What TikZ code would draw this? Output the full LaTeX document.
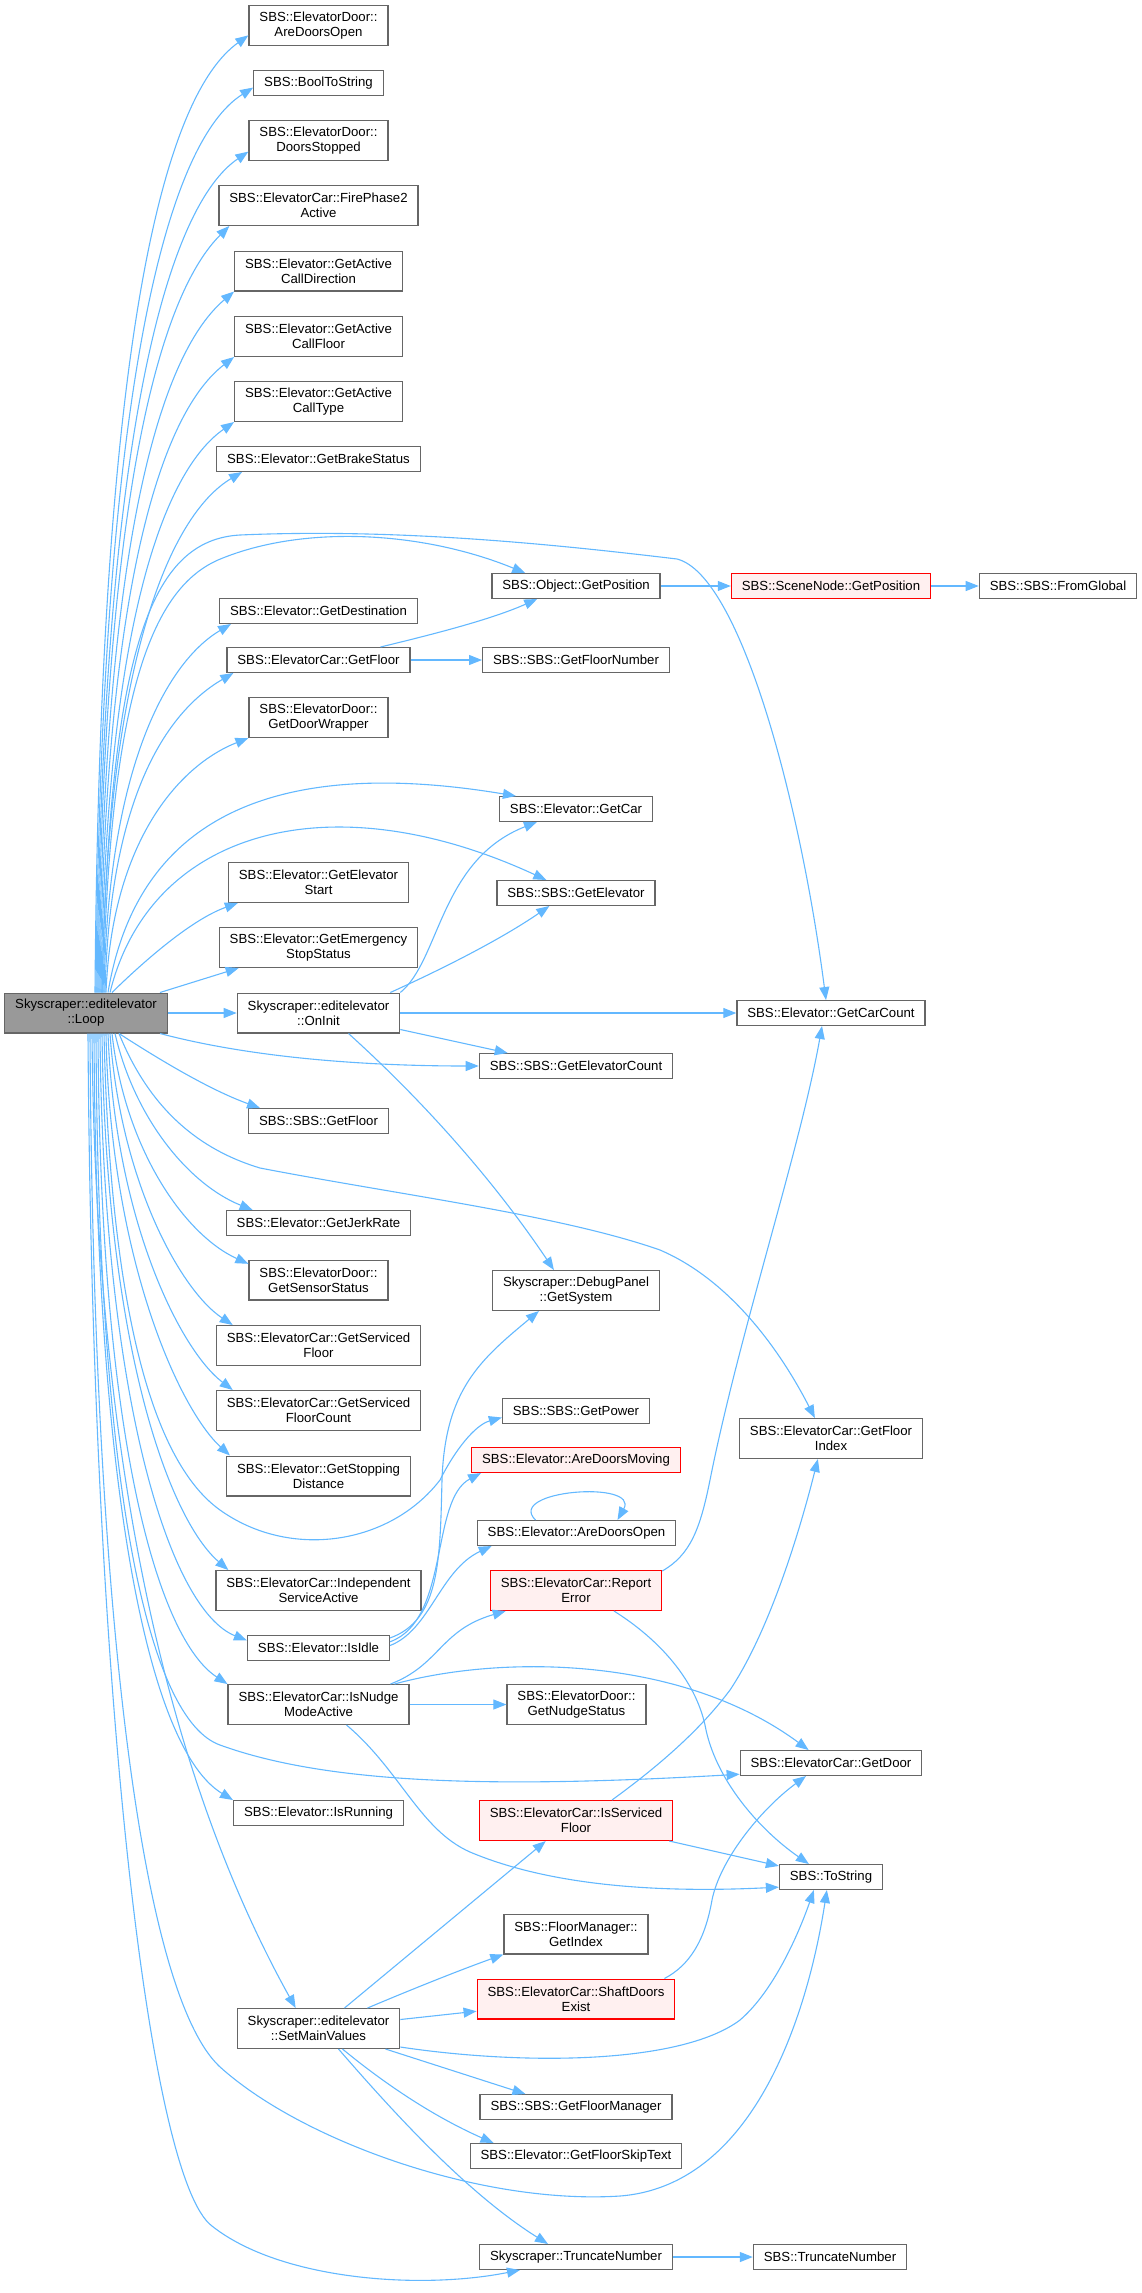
\documentclass[tikz,border=0pt]{standalone}
\usepackage{fontspec}
\setmainfont{Liberation Sans}
\usetikzlibrary{arrows.meta}
\definecolor{boxgray}{HTML}{666666}
\definecolor{rootgray}{HTML}{999999}
\definecolor{hotfill}{HTML}{FFF0F0}
\definecolor{callblue}{HTML}{63B8FF}

\begin{document}
\begin{tikzpicture}[x=1pt, y=-1pt,
	every node/.style={font=\fontsize{13.2}{15}\selectfont},
	fn/.style={draw=boxgray, line width=1.3pt, fill=white, align=center, inner xsep=10.4pt, inner ysep=3pt, minimum height=24.7pt},
	tall/.style={minimum height=39.7pt},
	hot/.style={draw=red, fill=hotfill},
	root/.style={fill=rootgray},
	call/.style={draw=callblue, line width=1.1pt, -{Triangle[length=13pt,width=10pt]}}]
	\useasboundingbox (0,0) rectangle (1142,2293);
	% caller
	\node[fn, tall, root] (loop) at (86,1013) {Skyscraper::editelevator\\::Loop};
	% first column
	\node[fn, tall] (adoA) at (318.5,25.5) {SBS::ElevatorDoor::\\AreDoorsOpen};
	\node[fn] (bool) at (318.5,83) {SBS::BoolToString};
	\node[fn, tall] (stop) at (318.5,140.5) {SBS::ElevatorDoor::\\DoorsStopped};
	\node[fn, tall] (fire) at (318.5,205.5) {SBS::ElevatorCar::FirePhase2\\Active};
	\node[fn, tall] (cdir) at (318.5,271) {SBS::Elevator::GetActive\\CallDirection};
	\node[fn, tall] (cflr) at (318.5,336.5) {SBS::Elevator::GetActive\\CallFloor};
	\node[fn, tall] (ctyp) at (318.5,401.5) {SBS::Elevator::GetActive\\CallType};
	\node[fn] (brake) at (318.5,459) {SBS::Elevator::GetBrakeStatus};
	\node[fn] (dest) at (318.5,611) {SBS::Elevator::GetDestination};
	\node[fn] (cflo) at (318.5,660) {SBS::ElevatorCar::GetFloor};
	\node[fn, tall] (wrap) at (318.5,717.5) {SBS::ElevatorDoor::\\GetDoorWrapper};
	\node[fn, tall] (estart) at (318.5,882.5) {SBS::Elevator::GetElevator\\Start};
	\node[fn, tall] (emerg) at (318.5,947.5) {SBS::Elevator::GetEmergency\\StopStatus};
	\node[fn, tall] (oninit) at (318.5,1013) {Skyscraper::editelevator\\::OnInit};
	\node[fn] (sfloor) at (318.5,1121) {SBS::SBS::GetFloor};
	\node[fn] (jerk) at (318.5,1223) {SBS::Elevator::GetJerkRate};
	\node[fn, tall] (sensor) at (318.5,1280) {SBS::ElevatorDoor::\\GetSensorStatus};
	\node[fn, tall] (svfl) at (318.5,1345.5) {SBS::ElevatorCar::GetServiced\\Floor};
	\node[fn, tall] (svfc) at (318.5,1410.5) {SBS::ElevatorCar::GetServiced\\FloorCount};
	\node[fn, tall] (stopd) at (318.5,1476) {SBS::Elevator::GetStopping\\Distance};
	\node[fn, tall] (indep) at (318.5,1590.5) {SBS::ElevatorCar::Independent\\ServiceActive};
	\node[fn] (idle) at (318.5,1648) {SBS::Elevator::IsIdle};
	\node[fn, tall] (nudge) at (318.5,1704.5) {SBS::ElevatorCar::IsNudge\\ModeActive};
	\node[fn] (running) at (318.5,1813) {SBS::Elevator::IsRunning};
	\node[fn, tall] (setmain) at (318.5,2028.5) {Skyscraper::editelevator\\::SetMainValues};
	% second column
	\node[fn] (opos) at (576,586) {SBS::Object::GetPosition};
	\node[fn] (fnum) at (576,660) {SBS::SBS::GetFloorNumber};
	\node[fn] (car) at (576,809) {SBS::Elevator::GetCar};
	\node[fn] (elev) at (576,893) {SBS::SBS::GetElevator};
	\node[fn] (ecount) at (576,1066) {SBS::SBS::GetElevatorCount};
	\node[fn, tall] (sys) at (576,1290.5) {Skyscraper::DebugPanel\\::GetSystem};
	\node[fn] (power) at (576,1411) {SBS::SBS::GetPower};
	\node[fn, hot] (moving) at (576,1460) {SBS::Elevator::AreDoorsMoving};
	\node[fn] (adoB) at (576.5,1533) {SBS::Elevator::AreDoorsOpen};
	\node[fn, tall, hot] (report) at (576,1590.5) {SBS::ElevatorCar::Report\\Error};
	\node[fn, tall] (nstat) at (576.5,1704.5) {SBS::ElevatorDoor::\\GetNudgeStatus};
	\node[fn, tall, hot] (isserv) at (576,1820.5) {SBS::ElevatorCar::IsServiced\\Floor};
	\node[fn, tall] (fmidx) at (576,1934) {SBS::FloorManager::\\GetIndex};
	\node[fn, tall, hot] (shaft) at (576,1999) {SBS::ElevatorCar::ShaftDoors\\Exist};
	\node[fn] (fman) at (576,2107) {SBS::SBS::GetFloorManager};
	\node[fn] (skip) at (576,2156) {SBS::Elevator::GetFloorSkipText};
	\node[fn] (trunc) at (576,2257) {Skyscraper::TruncateNumber};
	% third and fourth column
	\node[fn, hot] (spos) at (831,586) {SBS::SceneNode::GetPosition};
	\node[fn] (glob) at (1058,586) {SBS::SBS::FromGlobal};
	\node[fn] (ccount) at (831,1013) {SBS::Elevator::GetCarCount};
	\node[fn, tall] (findex) at (831,1438.5) {SBS::ElevatorCar::GetFloor\\Index};
	\node[fn] (door) at (831,1763) {SBS::ElevatorCar::GetDoor};
	\node[fn] (tostr) at (831,1877) {SBS::ToString};
	\node[fn] (strunc) at (830,2257) {SBS::TruncateNumber};

	% Loop, upwards
	\draw[call] ([xshift=9pt]loop.north) .. controls (100,330) and (165,95) .. (adoA.188);
	\draw[call] ([xshift=10pt]loop.north) .. controls (101,370) and (170,140) .. (bool.184);
	\draw[call] ([xshift=11pt]loop.north) .. controls (102,420) and (170,205) .. (stop.189);
	\draw[call] ([xshift=12pt]loop.north) .. controls (103,470) and (165,290) .. ([xshift=11pt]fire.south west);
	\draw[call] ([xshift=13pt]loop.north) .. controls (104,520) and (165,350) .. (cdir.south west);
	\draw[call] ([xshift=14pt]loop.north) .. controls (105,570) and (165,410) .. (cflr.south west);
	\draw[call] ([xshift=15pt]loop.north) .. controls (106,620) and (165,470) .. (ctyp.south west);
	\draw[call] ([xshift=16pt]loop.north) .. controls (107,660) and (170,515) .. ([xshift=26pt]brake.south west);
	\draw[call] ([xshift=17pt]loop.north) .. controls (110,700) and (150,590) .. (218,560)
		.. controls (300,525) and (420,530) .. ([xshift=34pt]opos.north west);
	\draw[call] ([xshift=16pt]loop.north) .. controls (110,650) and (150,540) .. (240,535)
		.. controls (400,528) and (560,545) .. (677,559) .. controls (740,575) and (800,800) .. ([xshift=-5pt]ccount.north);
	\draw[call] ([xshift=18pt]loop.north) .. controls (108,760) and (170,660) .. ([xshift=12pt]dest.south west);
	\draw[call] ([xshift=19pt]loop.north) .. controls (110,790) and (170,710) .. ([xshift=7pt]cflo.south west);
	\draw[call] ([xshift=20pt]loop.north) .. controls (112,840) and (180,765) .. (wrap.south west);
	\draw[call] ([xshift=22pt]loop.north) .. controls (140,800) and (300,760) .. ([xshift=17pt]car.north west);
	\draw[call] ([xshift=24pt]loop.north) .. controls (150,830) and (330,780) .. ([xshift=50pt]elev.north west);
	\draw[call] ([xshift=26pt]loop.north) .. controls (140,965) and (190,920) .. ([xshift=10pt]estart.south west);
	\draw[call] ([xshift=74pt]loop.north) -- ([xshift=20pt]emerg.south west);
	\draw[call] (loop.east) -- (oninit.west);
	% Loop, downwards
	\draw[call] ([xshift=33pt]loop.south) .. controls (160,1060) and (210,1090) .. ([xshift=12pt]sfloor.north west);
	\draw[call] ([xshift=74pt]loop.south) .. controls (260,1060) and (380,1066) .. (ecount.west);
	\draw[call] ([xshift=33pt]loop.south) .. controls (150,1110) and (200,1150) .. (260,1168)
		.. controls (400,1195) and (560,1215) .. (660,1250) .. controls (730,1280) and (780,1350) .. ([xshift=76pt]findex.north west);
	\draw[call] ([xshift=29pt]loop.south) .. controls (135,1120) and (190,1185) .. ([xshift=27pt]jerk.north west);
	\draw[call] ([xshift=26pt]loop.south) .. controls (125,1150) and (185,1235) .. (sensor.167);
	\draw[call] ([xshift=24pt]loop.south) .. controls (120,1180) and (180,1290) .. ([xshift=17pt]svfl.north west);
	\draw[call] ([xshift=22pt]loop.south) .. controls (115,1220) and (180,1350) .. ([xshift=17pt]svfc.north west);
	\draw[call] ([xshift=20pt]loop.south) .. controls (110,1260) and (180,1410) .. ([xshift=4pt]stopd.north west);
	\draw[call] ([xshift=18pt]loop.south) .. controls (110,1300) and (150,1460) .. (220,1510)
		.. controls (290,1560) and (390,1545) .. (440,1480) .. controls (455,1450) and (475,1425) .. (power.185);
	\draw[call] ([xshift=16pt]loop.south) .. controls (106,1350) and (170,1520) .. ([xshift=13pt]indep.north west);
	\draw[call] ([xshift=14pt]loop.south) .. controls (103,1400) and (170,1610) .. (idle.174);
	\draw[call] ([xshift=12pt]loop.south) .. controls (100,1450) and (160,1640) .. (nudge.north west);
	\draw[call] ([xshift=10pt]loop.south) .. controls (98,1500) and (150,1720) .. (220,1745)
		.. controls (330,1785) and (500,1788) .. (door.187);
	\draw[call] ([xshift=8pt]loop.south) .. controls (96,1500) and (150,1750) .. (running.north west);
	\draw[call] ([xshift=6pt]loop.south) .. controls (96,1500) and (180,1800) .. ([xshift=59pt]setmain.north west);
	\draw[call] ([xshift=4pt]loop.south) .. controls (93,1600) and (140,1990) .. (219,2066)
		.. controls (300,2140) and (480,2205) .. (620,2196) .. controls (760,2185) and (810,2000) .. ([xshift=48pt]tostr.south west);
	\draw[call] ([xshift=2pt]loop.south) .. controls (92,1700) and (150,2180) .. (212,2226)
		.. controls (280,2280) and (420,2290) .. ([xshift=41pt]trunc.south west);
	% OnInit
	\draw[call] (oninit.north east) .. controls (440,960) and (440,860) .. ([xshift=38pt]car.south west);
	\draw[call] ([xshift=-10pt]oninit.north east) .. controls (440,970) and (500,940) .. ([xshift=53pt]elev.south west);
	\draw[call] (oninit.east) -- (ccount.west);
	\draw[call] ([yshift=4pt]oninit.south east) -- ([xshift=29pt]ecount.north west);
	\draw[call] ([xshift=30pt]oninit.south) .. controls (400,1080) and (480,1160) .. ([xshift=62pt]sys.north west);
	% GetFloor and GetPosition
	\draw[call] ([xshift=62pt]cflo.north) .. controls (430,635) and (490,620) .. ([xshift=46pt]opos.south west);
	\draw[call] (cflo.east) -- (fnum.west);
	\draw[call] (opos.east) -- (spos.west);
	\draw[call] (spos.east) -- (glob.west);
	% IsIdle
	\draw[call] (idle.8) .. controls (440,1620) and (440,1560) .. (442,1480)
		.. controls (445,1390) and (480,1360) .. ([xshift=47pt]sys.south west);
	\draw[call] (idle.5) .. controls (450,1620) and (430,1500) .. ([xshift=10pt]moving.south west);
	\draw[call] (idle.2) .. controls (430,1630) and (440,1570) .. ([xshift=15pt]adoB.south west);
	\draw[call] ([xshift=-41pt]adoB.north) .. controls (505,1490) and (640,1480) .. ([xshift=41pt]adoB.north);
	% IsNudgeModeActive
	\draw[call] ([xshift=72pt]nudge.north) .. controls (440,1665) and (440,1630) .. ([xshift=16pt]report.south west);
	\draw[call] ([xshift=76pt]nudge.north) .. controls (500,1655) and (680,1655) .. ([xshift=69pt]door.north west);
	\draw[call] (nudge.east) -- (nstat.west);
	\draw[call] ([xshift=28pt]nudge.south) .. controls (400,1770) and (420,1830) .. (470,1852)
		.. controls (560,1890) and (680,1892) .. (tostr.191);
	% ReportError
	\draw[call] ([yshift=-1pt]report.north east) .. controls (690,1555) and (700,1530) .. (710,1480)
		.. controls (740,1330) and (800,1150) .. ([xshift=-9pt]ccount.south);
	\draw[call] ([xshift=38pt]report.south) .. controls (660,1640) and (695,1680) .. (705,1725)
		.. controls (715,1780) and (760,1830) .. ([xshift=30pt]tostr.north west);
	% IsServicedFloor and ShaftDoorsExist
	\draw[call] ([xshift=36pt]isserv.north) .. controls (660,1765) and (700,1730) .. (730,1690)
		.. controls (770,1630) and (800,1530) .. ([xshift=79pt]findex.south west);
	\draw[call] ([xshift=-4pt]isserv.south east) -- (tostr.168);
	\draw[call] ([xshift=-11pt]shaft.north east) .. controls (690,1965) and (705,1940) .. (712,1900)
		.. controls (720,1860) and (760,1810) .. ([xshift=-25pt]door.south);
	% SetMainValues
	\draw[call] ([xshift=26pt]setmain.north) -- ([xshift=67pt]isserv.south west);
	\draw[call] ([xshift=49pt]setmain.north) .. controls (410,1990) and (460,1970) .. (fmidx.south west);
	\draw[call] ([yshift=9pt]setmain.east) -- (shaft.187);
	\draw[call] ([yshift=2pt]setmain.south east) .. controls (520,2065) and (680,2065) .. (740,2020)
		.. controls (775,1990) and (800,1930) .. ([xshift=35pt]tostr.south west);
	\draw[call] ([xshift=67pt]setmain.south) -- ([xshift=46pt]fman.north west);
	\draw[call] ([xshift=24pt]setmain.south) .. controls (380,2080) and (430,2115) .. ([xshift=24pt]skip.north west);
	\draw[call] ([xshift=20pt]setmain.south) .. controls (400,2120) and (470,2195) .. ([xshift=69pt]trunc.north west);
	\draw[call] (trunc.east) -- (strunc.west);
\end{tikzpicture}
\end{document}
